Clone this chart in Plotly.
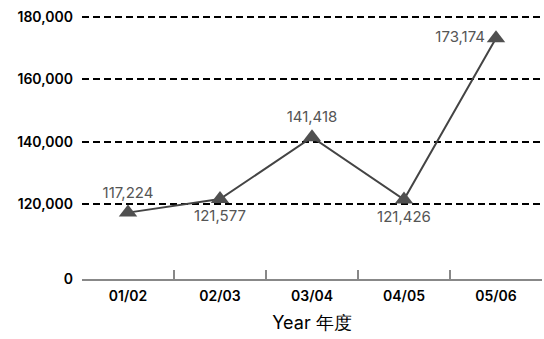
import plotly.graph_objects as go

# Data
years = ["01/02", "02/03", "03/04", "04/05", "05/06"]
values = [117224, 121577, 141418, 121426, 173174]
label_positions = ["top center", "bottom center", "top center", "bottom center", "middle left"]
y_tick_values = [120000, 140000, 160000, 180000]
y_tick_labels = ["120,000", "140,000", "160,000", "180,000"]
zero_label = "0"
x_title = "Year 年度"

# Axis break: the "0" baseline is drawn just below the 120,000 line
AXIS_FLOOR = 95923
AXIS_TOP = 182250

fig = go.Figure()
fig.add_trace(go.Scatter(
    x=years, y=values,
    mode="lines+markers+text",
    line=dict(color="#444444", width=2),
    marker=dict(symbol="triangle-up", size=16, color="#505050"),
    text=[f"{v:,}" for v in values],
    textposition=label_positions,
    textfont=dict(family="Inter", size=15, color="#555555"),
    cliponaxis=False,
    showlegend=False,
))

fig.update_layout(
    width=544, height=339,
    margin=dict(l=82, r=2, t=10, b=60),
    paper_bgcolor="white", plot_bgcolor="white",
    font=dict(family="Inter", color="black"),
    xaxis=dict(
        type="category",
        range=[-0.5, len(years) - 0.5],
        showline=True, linecolor="#888888", linewidth=2,
        ticks="inside", tickson="boundaries", ticklen=9, tickcolor="#888888", tickwidth=1.5,
        showgrid=False,
        tickfont=dict(size=14, color="black", weight=600),
        ticklabelstandoff=3,
        title=dict(text=x_title, font=dict(size=18, color="black"), standoff=14),
    ),
    yaxis=dict(
        range=[AXIS_FLOOR, AXIS_TOP],
        tickvals=[AXIS_FLOOR] + y_tick_values,
        ticktext=[zero_label] + y_tick_labels,
        tickfont=dict(size=14, color="black", weight=600),
        showgrid=True, gridcolor="black", gridwidth=2, griddash="7px,4px",
        zeroline=False, showline=False, ticks="",
        ticklabelstandoff=8,
    ),
)

fig.write_html("out.html")
